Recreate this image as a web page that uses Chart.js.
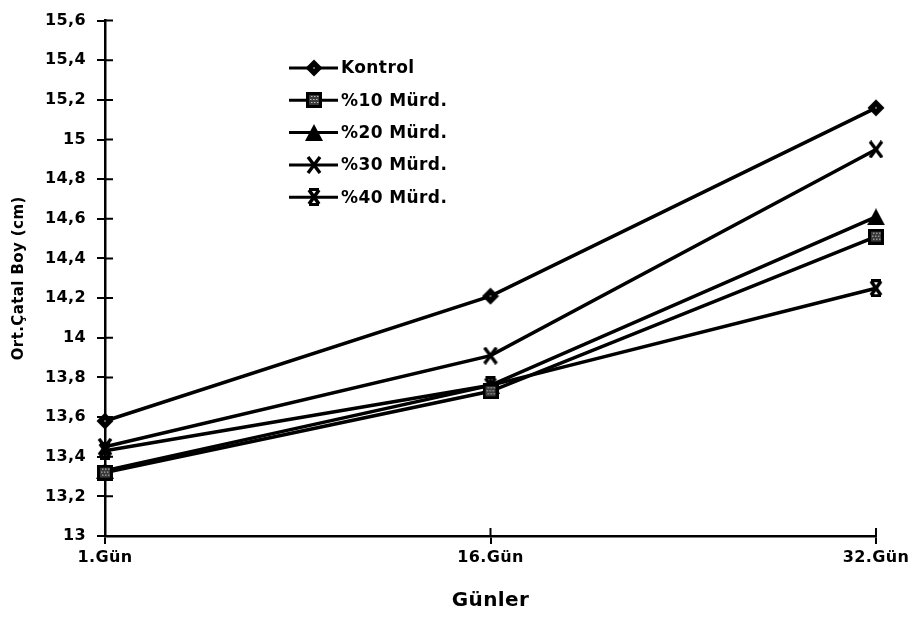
<!DOCTYPE html>
<html>
<head>
<meta charset="utf-8">
<script src="https://cdn.jsdelivr.net/npm/chart.js@4.4.1/dist/chart.umd.min.js"></script>
<style>
  html, body { margin: 0; padding: 0; background: #fff; }
  #wrap { width: 914px; height: 628px; position: relative; }
</style>
</head>
<body>
<div id="wrap"><canvas id="c" width="914" height="628"></canvas></div>
<script>
// Ortalama çatal boyu (cm) – günlere göre
const gunler = ['1.Gün', '16.Gün', '32.Gün'];
const seriAdlari = ['Kontrol', '%10 Mürd.', '%20 Mürd.', '%30 Mürd.', '%40 Mürd.'];
const kontrol = [13.58, 14.21, 15.16];
const murd10 = [13.32, 13.73, 14.51];
const murd20 = [13.33, 13.76, 14.61];
const murd30 = [13.45, 13.91, 14.95];
const murd40 = [13.43, 13.76, 14.25];
const yMin = 13, yMax = 15.6, yStep = 0.2;

const FONT = '"DejaVu Sans", "Liberation Sans", sans-serif';
const SPACING = '0.4px';

// --- marker images ---
function marker(w, h, draw) {
  const c = document.createElement('canvas');
  c.width = w; c.height = h;
  const g = c.getContext('2d');
  g.fillStyle = '#000'; g.strokeStyle = '#000';
  draw(g, w, h);
  return c;
}
const mkDiamond = marker(18, 18, (g) => {
  g.beginPath(); g.moveTo(9, 0.5); g.lineTo(17.5, 9); g.lineTo(9, 17.5); g.lineTo(0.5, 9); g.closePath(); g.fill();
  g.fillStyle = '#666'; g.fillRect(8, 8, 2, 2);
});
const mkSquare = marker(16, 16, (g) => {
  g.fillRect(0, 0, 16, 16);
  g.fillStyle = '#3a3a3a'; g.fillRect(3, 3, 10, 10);
  g.fillStyle = '#fff';
  for (let y = 4; y < 13; y += 3) for (let x = 4 + ((y / 3) % 2); x < 13; x += 3) g.fillRect(x, y, 1, 1);
});
const mkTriangle = marker(18, 17, (g) => {
  g.beginPath(); g.moveTo(9, 0); g.lineTo(18, 17); g.lineTo(0, 17); g.closePath(); g.fill();
});
const mkCross = marker(16, 18, (g) => {
  g.lineWidth = 3.4; g.lineCap = 'butt';
  g.beginPath(); g.moveTo(2, 1); g.lineTo(14, 17); g.moveTo(14, 1); g.lineTo(2, 17); g.stroke();
});
const mkStar = marker(16, 18, (g) => {
  g.lineWidth = 3.6;
  g.beginPath(); g.moveTo(3, 2); g.lineTo(13, 16); g.moveTo(13, 2); g.lineTo(3, 16); g.stroke();
  g.fillRect(3, 0, 10, 3); g.fillRect(3, 15, 10, 3);
});
const markers = [mkDiamond, mkSquare, mkTriangle, mkCross, mkStar];
const seriler = [kontrol, murd10, murd20, murd30, murd40];

const datasets = seriler.map((d, i) => ({
  label: seriAdlari[i],
  data: d,
  borderColor: '#000',
  backgroundColor: '#000',
  borderWidth: 3.5,
  pointStyle: markers[i],
  pointRadius: 8,
  pointHoverRadius: 8,
  tension: 0,
  fill: false
}));

// letter spacing applied to every text draw on the chart context
const spacingPlugin = {
  id: 'spacing',
  beforeUpdate(chart) { chart.ctx.letterSpacing = SPACING; },
  beforeDraw(chart) { chart.ctx.letterSpacing = SPACING; }
};

// inner half of the axis ticks (ticks cross the axis line)
const innerTicks = {
  id: 'innerTicks',
  afterDatasetsDraw(chart) {
    const { ctx, scales: { x, y } } = chart;
    ctx.save();
    ctx.strokeStyle = '#000';
    ctx.lineWidth = 2;
    ctx.beginPath();
    y.ticks.forEach((t) => {
      const py = y.getPixelForValue(t.value);
      ctx.moveTo(y.right, py); ctx.lineTo(y.right + 8, py);
    });
    x.ticks.forEach((t, i) => {
      const px = x.getPixelForTick(i);
      ctx.moveTo(px, x.top); ctx.lineTo(px, x.top - 8);
    });
    ctx.stroke();
    ctx.restore();
  }
};

// legend drawn inside the plot area
const innerLegend = {
  id: 'innerLegend',
  afterDraw(chart) {
    const ctx = chart.ctx;
    ctx.save();
    ctx.letterSpacing = SPACING;
    ctx.font = 'bold 17px ' + FONT;
    ctx.textBaseline = 'middle';
    ctx.fillStyle = '#000';
    chart.data.datasets.forEach((ds, i) => {
      const cy = 68 + i * 32.3;
      ctx.strokeStyle = '#000';
      ctx.lineWidth = 3;
      ctx.beginPath(); ctx.moveTo(289, cy); ctx.lineTo(338, cy); ctx.stroke();
      const m = ds.pointStyle;
      ctx.drawImage(m, Math.round(314 - m.width / 2), Math.round(cy - m.height / 2));
      ctx.fillText(ds.label, 341, cy + 1);
    });
    ctx.restore();
  }
};

function fmt(v) {
  return String(Math.round(v * 10) / 10).replace('.', ',');
}

new Chart(document.getElementById('c'), {
  type: 'line',
  data: { labels: gunler, datasets },
  plugins: [spacingPlugin, innerTicks, innerLegend],
  options: {
    responsive: false,
    animation: false,
    devicePixelRatio: 1,
    layout: { padding: { top: 13, right: 38, left: 0, bottom: 0 } },
    plugins: { legend: { display: false }, tooltip: { enabled: false } },
    scales: {
      x: {
        type: 'category',
        offset: false,
        afterFit(s) { s.height = 92; },
        border: { display: true, color: '#000', width: 2.5 },
        grid: { display: true, drawOnChartArea: false, drawTicks: true, tickLength: 8, color: '#000', lineWidth: 2 },
        ticks: { color: '#000', font: { family: FONT, size: 16, weight: 'bold' }, padding: 4, maxRotation: 0, autoSkip: false },
        title: { display: true, text: 'Günler', color: '#000', font: { family: FONT, size: 20, weight: 'bold' }, padding: { top: 0, bottom: 15 } }
      },
      y: {
        min: yMin,
        max: yMax,
        afterFit(s) { s.width = 105; },
        border: { display: true, color: '#000', width: 2.5 },
        grid: { display: true, drawOnChartArea: false, drawTicks: true, tickLength: 8, color: '#000', lineWidth: 2 },
        ticks: { stepSize: yStep, color: '#000', font: { family: FONT, size: 16, weight: 'bold' }, padding: 11, callback: (v) => fmt(v) },
        title: { display: true, text: 'Ort.Çatal Boy (cm)', color: '#000', font: { family: FONT, size: 15, weight: 'bold' }, padding: { top: 10, bottom: 0 } }
      }
    }
  }
});
</script>
</body>
</html>
